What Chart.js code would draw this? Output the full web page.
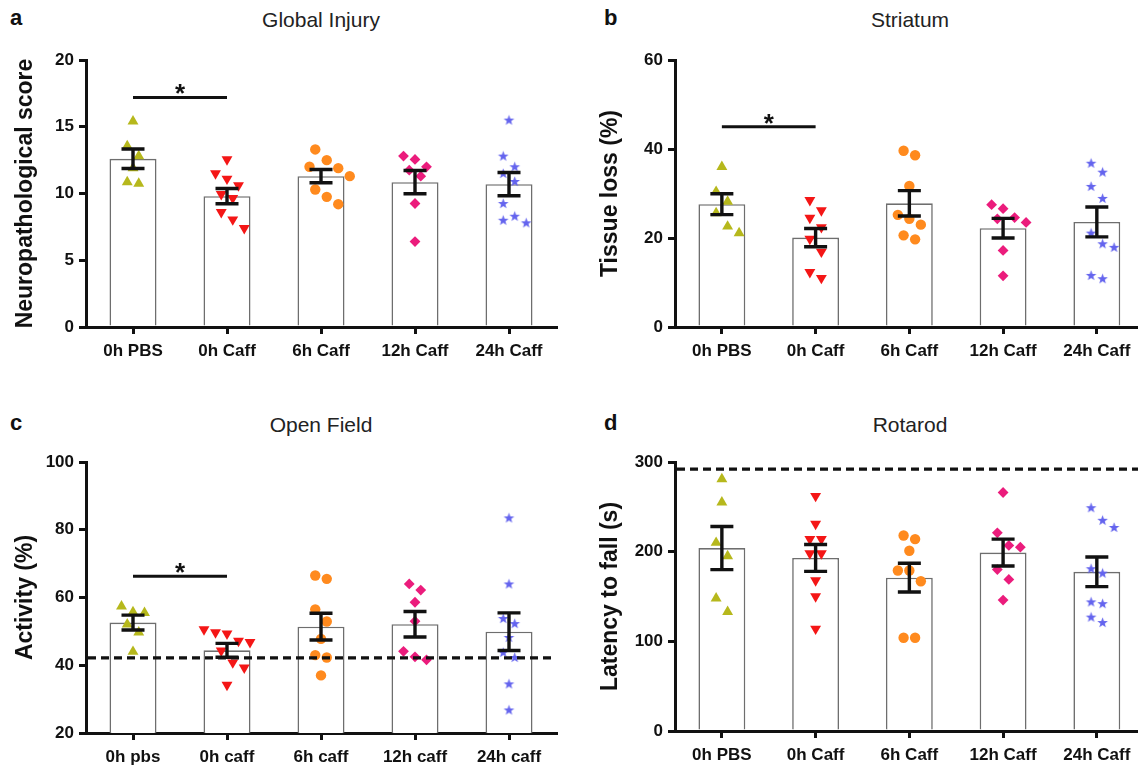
<!DOCTYPE html>
<html><head><meta charset="utf-8">
<script src="https://cdn.jsdelivr.net/npm/chart.js@4.4.1/dist/chart.umd.min.js"></script>
<style>
html,body{margin:0;padding:0;background:#fff;overflow:hidden;width:1138px;height:766px;position:relative;font-family:"Liberation Sans",Arial,sans-serif;}
canvas{position:absolute;}
.lt{position:absolute;font-weight:bold;font-size:22px;line-height:24px;color:#111;}
.tt{position:absolute;font-size:21px;line-height:24px;color:#222;transform:translateX(-50%);white-space:nowrap;}
</style></head><body>
<div class="lt" style="left:10px;top:6px">a</div>
<div class="tt" style="left:321px;top:8px">Global Injury</div>
<div class="lt" style="left:604px;top:6px">b</div>
<div class="tt" style="left:910px;top:8px">Striatum</div>
<div class="lt" style="left:10px;top:411px">c</div>
<div class="tt" style="left:321px;top:413px">Open Field</div>
<div class="lt" style="left:604px;top:411px">d</div>
<div class="tt" style="left:910px;top:413px">Rotarod</div>
<canvas id="ca" width="569" height="383" style="left:0;top:0;width:569px;height:383px"></canvas>
<canvas id="cb" width="580" height="383" style="left:570px;top:0;width:580px;height:383px"></canvas>
<canvas id="cc" width="569" height="366" style="left:0;top:400px;width:569px;height:366px"></canvas>
<canvas id="cd" width="580" height="366" style="left:570px;top:400px;width:580px;height:366px"></canvas>
<script>
// ---------- DATA ----------
const groupsUpper = ['0h PBS', '0h Caff', '6h Caff', '12h Caff', '24h Caff'];
const groupsLower = ['0h pbs', '0h caff', '6h caff', '12h caff', '24h caff'];

// a: Global Injury (neuropathological score)
const injuryMean = [12.6, 9.8, 11.3, 10.85, 10.7];
const injurySem = [0.73, 0.57, 0.5, 0.87, 0.87];
const injuryPoints = [
  [15.4, 13.55, 12.8, 11.9, 10.85, 10.75],
  [12.55, 11.5, 11.1, 10.6, 9.95, 9.65, 8.6, 8.05, 7.4],
  [13.3, 12.5, 12.0, 11.9, 11.3, 10.3, 9.75, 9.2],
  [12.8, 12.55, 12.0, 11.75, 11.3, 9.25, 6.4],
  [15.5, 12.8, 12.0, 11.5, 10.9, 9.25, 8.3, 8.0, 7.8]
];
const injurySig = [17.2];

// b: Striatum tissue loss (%)
const striatumMean = [27.6, 20.1, 27.8, 22.2, 23.6];
const striatumSem = [2.35, 2.05, 2.85, 2.2, 3.35];
const striatumPoints = [
  [36.0, 30.4, 28.2, 25.6, 22.6, 21.1],
  [28.5, 26.2, 24.5, 22.4, 19.8, 16.9, 12.3, 11.0],
  [39.6, 38.6, 31.7, 25.2, 24.3, 23.0, 20.6, 19.7],
  [27.5, 26.6, 24.6, 24.3, 23.5, 17.2, 11.5],
  [36.8, 34.8, 31.6, 28.9, 21.1, 18.7, 17.9, 11.6, 10.85]
];
const striatumSig = [45.0];

// c: Open Field activity (%)
const activityMean = [52.6, 44.4, 51.4, 52.1, 49.9];
const activitySem = [2.2, 2.05, 3.95, 3.75, 5.55];
const activityPoints = [
  [57.4, 55.7, 55.5, 52.1, 49.7, 44.0],
  [50.6, 49.7, 49.3, 47.2, 46.8, 44.3, 40.8, 39.3, 34.2],
  [66.5, 65.5, 56.5, 52.9, 47.8, 43.0, 42.3, 37.0],
  [64.0, 62.2, 58.6, 53.0, 44.1, 42.5, 41.6],
  [83.5, 64.0, 53.8, 52.3, 48.2, 43.8, 42.3, 34.5, 26.8]
];
const activitySig = [66.3];
const activityBaseline = [42.2];

// d: Rotarod latency to fall (s)
const latencyMean = [204, 193, 171, 199, 177.5];
const latencySem = [24, 15, 16, 15, 16.5];
const latencyPoints = [
  [281, 255, 210, 195, 148, 133],
  [262, 231, 214, 214, 198, 198, 168, 150, 114],
  [218, 214, 201, 179, 179, 167, 104, 104],
  [266, 221, 207, 205, 180, 169, 146],
  [249, 235, 227, 181, 176, 144, 142, 127, 121]
];
const latencyCutoff = [292];

// ---------- STYLE ----------
const INK = '#111';
const FONT = "'Liberation Sans', Arial, sans-serif";

function starImage(color) {
  const c = document.createElement('canvas');
  c.width = 13; c.height = 13;
  const g = c.getContext('2d');
  g.fillStyle = color;
  g.beginPath();
  for (let k = 0; k < 10; k++) {
    const r = k % 2 ? 2.3 : 5.6;
    const a = -Math.PI / 2 + k * Math.PI / 5;
    const px = 6.5 + r * Math.cos(a), py = 6.8 + r * Math.sin(a);
    k ? g.lineTo(px, py) : g.moveTo(px, py);
  }
  g.closePath(); g.fill();
  return c;
}

const groupStyles = [
  {pointStyle: 'triangle', rotation: 0, color: '#b6b81c', radius: 6.3},
  {pointStyle: 'triangle', rotation: 180, color: '#f41616', radius: 6.3},
  {pointStyle: 'circle', rotation: 0, color: '#ff8a1e', radius: 5.2},
  {pointStyle: 'rectRot', rotation: 0, color: '#eb1c7c', radius: 5.4},
  {pointStyle: starImage('#6464ee'), rotation: 0, color: '#6464ee', radius: 6}
];

const extrasPlugin = {
  id: 'extras',
  afterDatasetsDraw(chart, args, o) {
    const ctx = chart.ctx, xs = chart.scales.x, ys = chart.scales.y, ca = chart.chartArea;
    ctx.save();
    ctx.strokeStyle = INK; ctx.fillStyle = INK;
    if (o.refLine) {
      const yy = ys.getPixelForValue(o.refLine[0]);
      ctx.setLineDash([8, 5]); ctx.lineWidth = 3.2;
      ctx.beginPath(); ctx.moveTo(ca.left + 2, yy); ctx.lineTo(ca.right, yy); ctx.stroke();
      ctx.setLineDash([]);
    }
    ctx.lineWidth = 3.4; ctx.lineCap = 'butt';
    o.mean.forEach((m, i) => {
      const cx = xs.getPixelForValue(i);
      const t = ys.getPixelForValue(m + o.sem[i]);
      const b = ys.getPixelForValue(m - o.sem[i]);
      ctx.beginPath();
      ctx.moveTo(cx, t); ctx.lineTo(cx, b);
      ctx.moveTo(cx - 11.5, t); ctx.lineTo(cx + 11.5, t);
      ctx.moveTo(cx - 11.5, b); ctx.lineTo(cx + 11.5, b);
      ctx.stroke();
    });
    if (o.sig) {
      const yy = ys.getPixelForValue(o.sig[0]);
      const x0 = xs.getPixelForValue(0), x1 = xs.getPixelForValue(1);
      ctx.lineWidth = 3;
      ctx.beginPath(); ctx.moveTo(x0, yy); ctx.lineTo(x1, yy); ctx.stroke();
      ctx.font = 'bold 26px ' + FONT;
      ctx.textAlign = 'center'; ctx.textBaseline = 'alphabetic';
      ctx.fillText('*', (x0 + x1) / 2, yy + 5);
    }
    ctx.restore();
  }
};

// GraphPad-like scatter spreading: points whose heights lie within one band share a row
// and are spread symmetrically; collisions with already placed dots push them outward.
function swarmOffsets(values, pxPerUnit, step, band, dist) {
  const order = values.map((v, i) => i).sort((a, b) => values[b] - values[a]);
  const off = new Array(values.length).fill(0);
  const placed = [];
  let k = 0;
  while (k < order.length) {
    const first = values[order[k]] * pxPerUnit;
    const bin = [];
    while (k < order.length && first - values[order[k]] * pxPerUnit < band) { bin.push(order[k]); k++; }
    bin.forEach((idx, j) => {
      let xp = (j - (bin.length - 1) / 2) * step;
      const yp = values[idx] * pxPerUnit;
      const dir = xp < 0 ? -1 : 1;
      let guard = 0;
      while (placed.some(p => Math.hypot(p.x - xp, p.y - yp) < dist) && guard++ < 8) xp += dir * step / 2;
      off[idx] = xp; placed.push({x: xp, y: yp});
    });
  }
  return off;
}

function makePanel(id, cfg) {
  const el = document.getElementById(id);
  const W = el.width, H = el.height;
  const tickFont = {family: FONT, size: 17, weight: 'bold'};
  const pointSets = cfg.points.map((vals, g) => ({
    type: 'scatter',
    xAxisID: 'xs',
    order: 1,
    data: vals.map(v => ({x: g, y: v})),
    pointStyle: groupStyles[g].pointStyle,
    rotation: groupStyles[g].rotation,
    radius: groupStyles[g].radius,
    backgroundColor: groupStyles[g].color,
    borderColor: groupStyles[g].color,
    borderWidth: 0
  }));
  const chart = new Chart(el, {
    type: 'bar',
    data: {
      labels: cfg.labels,
      datasets: [{
        type: 'bar', order: 10, data: cfg.mean, grouped: false,
        backgroundColor: '#ffffff', borderColor: '#6e6e6e', borderWidth: 1.6,
        borderSkipped: 'start', barPercentage: 0.5, categoryPercentage: 1
      }].concat(pointSets)
    },
    options: {
      responsive: false, animation: false, devicePixelRatio: 1,
      layout: {padding: {left: 0, top: cfg.area.top, right: W - cfg.area.right, bottom: 0}},
      plugins: {legend: {display: false}, tooltip: {enabled: false}, title: {display: false},
        extras: {mean: cfg.mean, sem: cfg.sem, sig: cfg.sig, refLine: cfg.refLine}},
      scales: {
        x: {
          type: 'category', offset: true,
          grid: {display: true, offset: false, drawOnChartArea: false, drawTicks: true, tickLength: 7, lineWidth: 3, tickWidth: 3, color: INK, tickColor: INK},
          border: {display: true, color: INK, width: 3},
          ticks: {font: tickFont, color: INK, padding: 7, maxRotation: 0, autoSkip: false},
          afterFit: s => { s.height = H - cfg.area.bottom; }
        },
        xs: {type: 'linear', display: false, offset: false, bounds: 'data', min: -0.5, max: 4.5, position: 'bottom'},
        y: {
          min: cfg.yMin, max: cfg.yMax,
          grid: {display: true, drawOnChartArea: false, drawTicks: true, tickLength: 7, lineWidth: 3, tickWidth: 3, color: INK, tickColor: INK},
          border: {display: true, color: INK, width: 3},
          ticks: {stepSize: cfg.yStep, font: tickFont, color: INK, padding: 5},
          title: {display: true, text: cfg.yTitle, font: {family: FONT, size: 23, weight: 'bold'}, color: INK, padding: {top: cfg.yTitlePad, bottom: 0}},
          afterFit: s => { s.width = cfg.area.left; }
        }
      }
    },
    plugins: [extrasPlugin]
  });
  // spread the dots of each group horizontally using the laid-out scales
  const ys = chart.scales.y, xs = chart.scales.xs;
  const pxPerUnit = Math.abs(ys.getPixelForValue(1) - ys.getPixelForValue(0));
  const pxPerCat = Math.abs(xs.getPixelForValue(1) - xs.getPixelForValue(0));
  cfg.points.forEach((vals, g) => {
    const off = swarmOffsets(vals, pxPerUnit, 11.5, 14, 10.5);
    chart.data.datasets[g + 1].data = vals.map((v, i) => ({x: g + off[i] / pxPerCat, y: v}));
  });
  chart.update('none');
  return chart;
}

makePanel('ca', {labels: groupsUpper, mean: injuryMean, sem: injurySem, points: injuryPoints, sig: injurySig,
  yMin: 0, yMax: 20, yStep: 5, yTitle: 'Neuropathological score', yTitlePad: 12,
  area: {left: 86, right: 556, top: 60, bottom: 327}});
makePanel('cb', {labels: groupsUpper, mean: striatumMean, sem: striatumSem, points: striatumPoints, sig: striatumSig,
  yMin: 0, yMax: 60, yStep: 20, yTitle: 'Tissue loss (%)', yTitlePad: 27,
  area: {left: 105, right: 575, top: 60, bottom: 327}});
makePanel('cc', {labels: groupsLower, mean: activityMean, sem: activitySem, points: activityPoints, sig: activitySig, refLine: activityBaseline,
  yMin: 20, yMax: 100, yStep: 20, yTitle: 'Activity (%)', yTitlePad: 12,
  area: {left: 86, right: 556, top: 62, bottom: 333}});
makePanel('cd', {labels: groupsUpper, mean: latencyMean, sem: latencySem, points: latencyPoints, refLine: latencyCutoff,
  yMin: 0, yMax: 300, yStep: 100, yTitle: 'Latency to fall (s)', yTitlePad: 27,
  area: {left: 105, right: 575, top: 62, bottom: 331}});
</script>
</body></html>
